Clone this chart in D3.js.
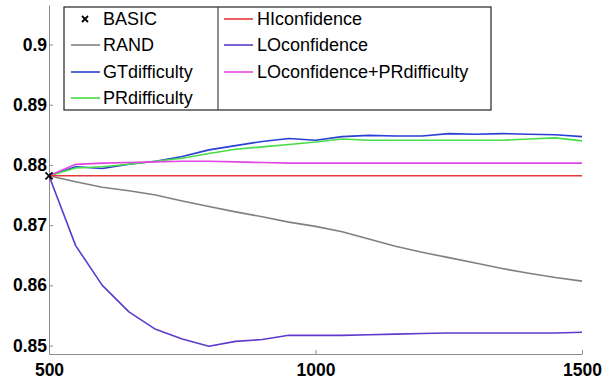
<!DOCTYPE html>
<html>
<head>
<meta charset="utf-8">
<script src="https://cdn.jsdelivr.net/npm/d3@7"></script>
<style>
  html, body { margin: 0; padding: 0; background: #fff; }
  svg { display: block; font-family: "Liberation Sans", Arial, Helvetica, sans-serif; }
</style>
</head>
<body>
<svg id="chart"></svg>
<script>
// x: number of samples
const xValues = [500, 550, 600, 650, 700, 750, 800, 850, 900, 950, 1000,
  1050, 1100, 1150, 1200, 1250, 1300, 1350, 1400, 1450, 1500];

const basicValue = 0.8782;

const rand = [0.8782, 0.8772, 0.8763, 0.8757, 0.875, 0.874, 0.8731, 0.8722, 0.8714, 0.8705, 0.8698,
  0.8689, 0.8677, 0.8665, 0.8655, 0.8646, 0.8637, 0.8628, 0.862, 0.8613, 0.8607];
const gtDifficulty = [0.8782, 0.8797, 0.8794, 0.8801, 0.8806, 0.8814, 0.8825, 0.8832, 0.8839, 0.8844, 0.8841,
  0.8847, 0.8849, 0.8848, 0.8848, 0.8852, 0.8851, 0.8852, 0.8851, 0.885, 0.8847];
const prDifficulty = [0.8782, 0.8795, 0.8797, 0.8801, 0.8806, 0.8811, 0.8819, 0.8826, 0.883, 0.8834, 0.8838,
  0.8843, 0.8841, 0.8841, 0.8841, 0.8841, 0.8841, 0.8841, 0.8843, 0.8845, 0.884];
const hiConfidence = [0.8782, 0.8782, 0.8782, 0.8782, 0.8782, 0.8782, 0.8782, 0.8782, 0.8782, 0.8782, 0.8782,
  0.8782, 0.8782, 0.8782, 0.8782, 0.8782, 0.8782, 0.8782, 0.8782, 0.8782, 0.8782];
const loConfidence = [0.8782, 0.8666, 0.86, 0.8556, 0.8527, 0.8511, 0.8499, 0.8507, 0.851, 0.8517, 0.8517,
  0.8517, 0.8518, 0.8519, 0.852, 0.8521, 0.8521, 0.8521, 0.8521, 0.8521, 0.8522];
const loPrDifficulty = [0.8782, 0.8801, 0.8803, 0.8804, 0.8805, 0.8806, 0.8806, 0.8805, 0.8804, 0.8803, 0.8803,
  0.8803, 0.8803, 0.8803, 0.8803, 0.8803, 0.8803, 0.8803, 0.8803, 0.8803, 0.8803];

const xTicks = [500, 1000, 1500];
const yTicks = [0.85, 0.86, 0.87, 0.88, 0.89, 0.9];

const series = [
  { name: 'RAND', color: '#808080', values: rand },
  { name: 'GTdifficulty', color: '#2a3fd4', values: gtDifficulty },
  { name: 'PRdifficulty', color: '#47dd47', values: prDifficulty },
  { name: 'HIconfidence', color: '#e83838', values: hiConfidence },
  { name: 'LOconfidence', color: '#5e3acc', values: loConfidence },
  { name: 'LOconfidence+PRdifficulty', color: '#e246e2', values: loPrDifficulty },
];

const width = 605, height = 379;
const plotLeft = 49, plotRight = 582, plotTop = 5, plotBottom = 354;

const svg = d3.select('#chart').attr('width', width).attr('height', height);

const x = d3.scaleLinear([500, 1500], [plotLeft, plotRight]);
const y = d3.scaleLinear([0.8486, 0.90656], [plotBottom, plotTop]);

/**
 * axes
 */
const axisColor = '#8c8c8c';
svg.append('g')
  .attr('transform', `translate(0,${plotBottom})`)
  .call(d3.axisBottom(x).tickValues(xTicks).tickSizeInner(-4).tickSizeOuter(0).tickPadding(10).tickFormat(d3.format('d')))
  .call((g) => {
    g.select('.domain').attr('stroke', axisColor);
    g.selectAll('.tick line').attr('stroke', axisColor);
    g.selectAll('.tick text').attr('fill', '#000').style('font-size', '17.5px').style('font-weight', 'bold');
  });

svg.append('g')
  .attr('transform', `translate(${plotLeft},0)`)
  .call(d3.axisLeft(y).tickValues(yTicks).tickSizeInner(-4).tickSizeOuter(0).tickPadding(2).tickFormat((d) => String(+d.toFixed(2))))
  .call((g) => {
    g.select('.domain').attr('stroke', axisColor);
    g.selectAll('.tick line').attr('stroke', axisColor);
    g.selectAll('.tick text').attr('fill', '#000').style('font-size', '17.5px').style('font-weight', 'bold');
  });

/**
 * lines
 */
const line = d3.line().x((d, i) => x(xValues[i])).y((d) => y(d));
series.forEach((s) => {
  svg.append('path')
    .attr('fill', 'none')
    .attr('stroke', s.color)
    .attr('stroke-width', 1.6)
    .attr('stroke-linejoin', 'round')
    .attr('d', line(s.values));
});

// BASIC marker
const cross = (g, cx, cy, r) => {
  g.append('path')
    .attr('d', `M${cx - r},${cy - r}L${cx + r},${cy + r}M${cx - r},${cy + r}L${cx + r},${cy - r}`)
    .attr('stroke', '#000')
    .attr('stroke-width', 1.8);
};
cross(svg, x(500), y(basicValue), 3.5);

/**
 * legend
 */
const legend = svg.append('g');
const lgLeft = 64, lgTop = 7, lgRight = 491, lgBottom = 110, lgDivider = 218;
const rowY = [19, 45, 72, 98];
legend.append('rect')
  .attr('x', lgLeft).attr('y', lgTop)
  .attr('width', lgRight - lgLeft).attr('height', lgBottom - lgTop)
  .attr('fill', '#fff').attr('stroke', '#222').attr('stroke-width', 1.2);
legend.append('line')
  .attr('x1', lgDivider).attr('x2', lgDivider)
  .attr('y1', lgTop).attr('y2', lgBottom)
  .attr('stroke', '#444').attr('stroke-width', 1.2);

const legendItems = [{ name: 'BASIC', marker: true }, ...series];
const columns = [
  { lineX: 71, textX: 103 },
  { lineX: 224, textX: 257 },
];
legendItems.forEach((item, i) => {
  const col = columns[i < 4 ? 0 : 1];
  const cy = rowY[i < 4 ? i : i - 4];
  if (item.marker) {
    cross(legend, col.lineX + 14, cy, 3);
  } else {
    legend.append('line')
      .attr('x1', col.lineX).attr('x2', col.lineX + 29)
      .attr('y1', cy).attr('y2', cy)
      .attr('stroke', item.color).attr('stroke-width', 1.6);
  }
  legend.append('text')
    .attr('x', col.textX).attr('y', cy)
    .attr('dy', '0.35em')
    .style('font-size', '18px')
    .attr('fill', '#000')
    .text(item.name);
});
</script>
</body>
</html>
